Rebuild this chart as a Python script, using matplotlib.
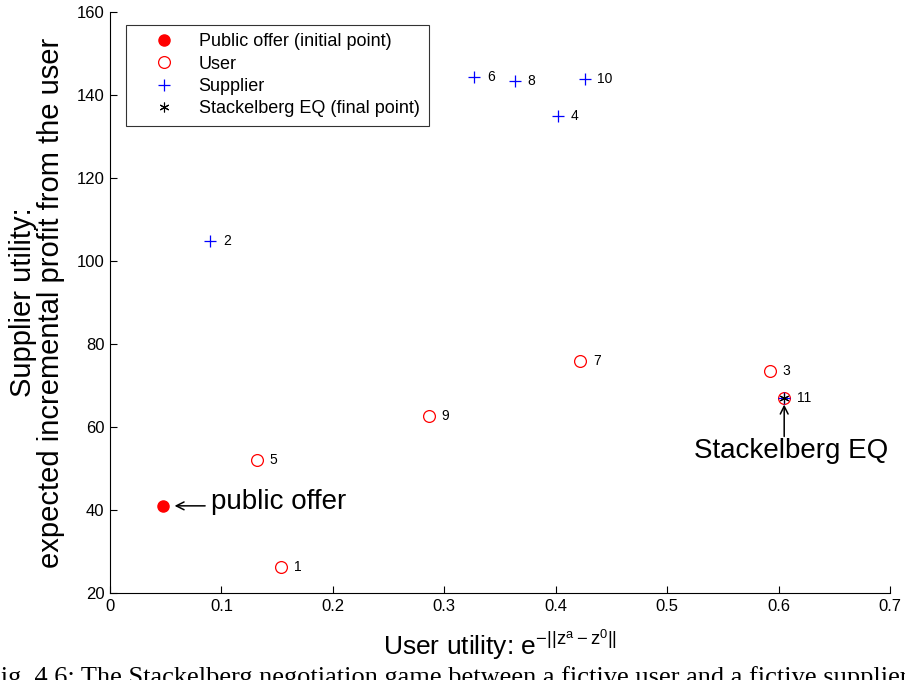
import numpy as np
import matplotlib
matplotlib.use('Agg')
import matplotlib.pyplot as plt

plt.rcParams['font.family'] = ['Liberation Sans', 'DejaVu Sans']
plt.rcParams['mathtext.fontset'] = 'custom'
plt.rcParams['mathtext.rm'] = 'Liberation Sans'
plt.rcParams['mathtext.it'] = 'Liberation Sans'

# public offer (initial point)
offer_x = [0.048]
offer_y = [41.0]

# user moves (odd rounds)
user_round = [1, 3, 5, 7, 9, 11]
user_x = [0.1535, 0.592, 0.132, 0.422, 0.286, 0.605]
user_y = [26.2, 73.5, 52.0, 75.9, 62.7, 67.1]

# supplier moves (even rounds, plus the final point)
supp_round = [2, 4, 6, 8, 10, 11]
supp_x = [0.090, 0.402, 0.327, 0.363, 0.426, 0.605]
supp_y = [104.9, 135.1, 144.4, 143.4, 143.8, 67.1]

# stackelberg equilibrium (final point)
eq_x = [0.605]
eq_y = [67.1]

xticks = [0, 0.1, 0.2, 0.3, 0.4, 0.5, 0.6, 0.7]
yticks = [20, 40, 60, 80, 100, 120, 140, 160]

fig = plt.figure(figsize=(9.05, 6.8), dpi=100)
ax = fig.add_axes([0.1215, 0.128, 0.862, 0.854])

asterisk = (6, 2, 0)
ax.plot(offer_x, offer_y, 'o', color='red', markersize=8, label='Public offer (initial point)')
ax.plot(user_x, user_y, 'o', mfc='none', mec='red', markersize=8.5, mew=0.9, label='User')
ax.plot(supp_x, supp_y, '+', color='blue', markersize=9, mew=0.9, label='Supplier')
ax.plot(eq_x, eq_y, marker=asterisk, ls='none', color='black', markersize=7, mew=0.8,
        label='Stackelberg EQ (final point)')

# round numbers
labels = dict(zip(user_round, zip(user_x, user_y)))
labels.update(dict(zip(supp_round[:-1], zip(supp_x[:-1], supp_y[:-1]))))
for r, (x, y) in labels.items():
    ax.annotate(str(r), (x, y), xytext=(9, 0), textcoords='offset points',
                ha='left', va='center', fontsize=10)

# public offer pointer
ax.annotate('', xy=(offer_x[0], offer_y[0]), xytext=(30, 0), textcoords='offset points',
            arrowprops=dict(arrowstyle='->', lw=1.1, color='black', shrinkA=0, shrinkB=8,
                            mutation_scale=14))
ax.annotate('public offer', (offer_x[0], offer_y[0]), xytext=(34, 3), textcoords='offset points',
            ha='left', va='center', fontsize=20)

# equilibrium pointer
ax.annotate('', xy=(eq_x[0], eq_y[0]), xytext=(0, -28), textcoords='offset points',
            arrowprops=dict(arrowstyle='->', lw=1.1, color='black', shrinkA=0, shrinkB=5,
                            mutation_scale=14))
ax.annotate('Stackelberg EQ', (eq_x[0], eq_y[0]), xytext=(5, -29), textcoords='offset points',
            ha='center', va='top', fontsize=20)

ax.set_xlim(0, 0.7)
ax.set_ylim(20, 160)
ax.set_xticks(xticks)
ax.set_xticklabels([('%g' % t) for t in xticks])
ax.set_yticks(yticks)
ax.tick_params(direction='in', labelsize=12, length=5, width=0.8, pad=4)
ax.spines['top'].set_visible(False)
ax.spines['right'].set_visible(False)

ax.set_ylabel('Supplier utility:\nexpected incremental profit from the user', fontsize=21,
              labelpad=8, linespacing=1.0)
ax.set_xlabel('User utility: $\\mathregular{e^{-||z^a - z^0||}}$', fontsize=19, labelpad=10)

leg = ax.legend(loc='upper left', bbox_to_anchor=(0.02, 0.978), fontsize=13, frameon=True,
                fancybox=False, edgecolor='black', handletextpad=0.2, borderpad=0.45,
                labelspacing=0.3, handlelength=3.4, borderaxespad=0, numpoints=1)
leg.get_frame().set_linewidth(0.8)
leg.texts[0].set_text('Public offer (initial point)      ')

fig.text(-0.016, -0.006, 'Fig. 4.6: The Stackelberg negotiation game between a fictive user and a fictive supplier',
         fontsize=19, family=['Liberation Serif', 'DejaVu Serif'], ha='left', va='baseline')

fig.savefig('out.png', dpi=100)
